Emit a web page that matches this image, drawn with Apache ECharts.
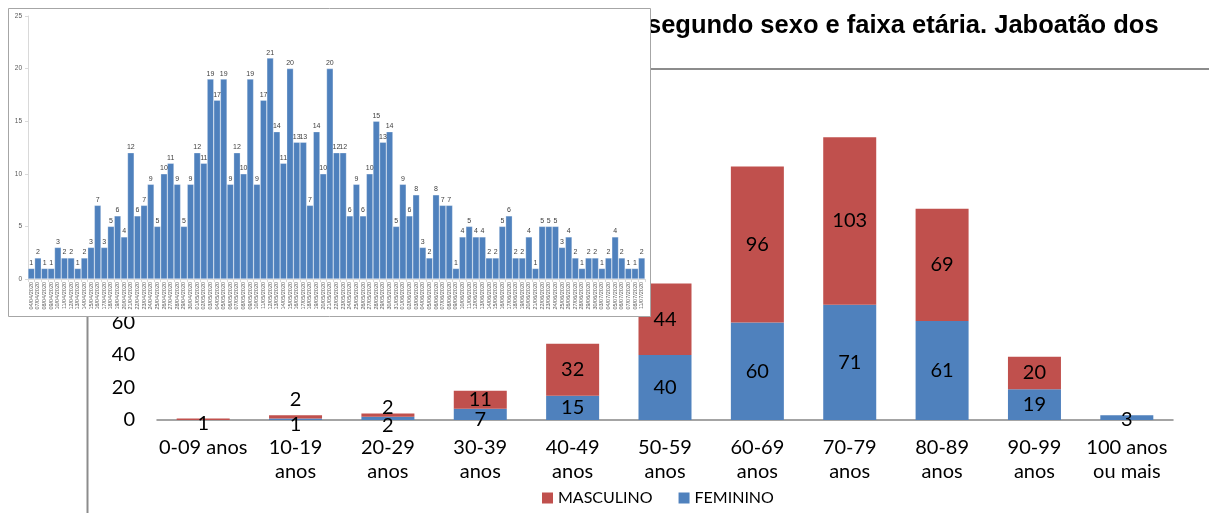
<!DOCTYPE html>
<html>
<head>
<meta charset="utf-8">
<script src="https://cdn.jsdelivr.net/npm/echarts@6/dist/echarts.min.js"></script>
<style>
html,body{margin:0;padding:0;background:#fff;}
#chart{width:1209px;height:513px;}
</style>
</head>
<body>
<div id="chart"></div>
<script>
// ---- Main chart data (óbitos por sexo e faixa etária) ----
const ageGroups = ['0-09 anos', '10-19\nanos', '20-29\nanos', '30-39\nanos', '40-49\nanos', '50-59\nanos', '60-69\nanos', '70-79\nanos', '80-89\nanos', '90-99\nanos', '100 anos\nou mais'];
const masculino = [1, 2, 2, 11, 32, 44, 96, 103, 69, 20, 0];
const feminino  = [0, 1, 2, 7, 15, 40, 60, 71, 61, 19, 3];
const legendNames = ['MASCULINO', 'FEMININO'];
const titleText = 'segundo sexo e faixa etária. Jaboatão dos';

// ---- Inset chart data (óbitos por data) ----
const dates = [
  '04/04/2020',
  '07/04/2020','08/04/2020','09/04/2020','10/04/2020','11/04/2020','12/04/2020','13/04/2020','14/04/2020','15/04/2020','16/04/2020',
  '17/04/2020','18/04/2020','19/04/2020','20/04/2020','21/04/2020','22/04/2020','23/04/2020','24/04/2020','25/04/2020','26/04/2020',
  '27/04/2020','28/04/2020','29/04/2020','30/04/2020',
  '01/05/2020','02/05/2020','03/05/2020','04/05/2020','05/05/2020','06/05/2020','07/05/2020','08/05/2020','09/05/2020','10/05/2020',
  '11/05/2020','12/05/2020','13/05/2020','14/05/2020','15/05/2020','16/05/2020','17/05/2020','18/05/2020','19/05/2020','20/05/2020',
  '21/05/2020','22/05/2020','23/05/2020','24/05/2020','25/05/2020','26/05/2020','27/05/2020','28/05/2020','29/05/2020','30/05/2020','31/05/2020',
  '01/06/2020','02/06/2020','03/06/2020','04/06/2020','05/06/2020','06/06/2020','07/06/2020','08/06/2020','09/06/2020','10/06/2020',
  '11/06/2020','12/06/2020','13/06/2020','14/06/2020','15/06/2020','16/06/2020','17/06/2020','18/06/2020','19/06/2020','20/06/2020',
  '21/06/2020','22/06/2020','23/06/2020','24/06/2020','25/06/2020','26/06/2020','27/06/2020','28/06/2020','29/06/2020','30/06/2020',
  '03/07/2020','04/07/2020','05/07/2020','06/07/2020','07/07/2020','08/07/2020','11/07/2020'
];
const dailyDeaths = [
  1, 2, 1, 1, 3, 2, 2, 1, 2, 3,
  7, 3, 5, 6, 4, 12, 6, 7, 9, 5,
  10, 11, 9, 5, 9, 12, 11, 19, 17, 19,
  9, 12, 10, 19, 9, 17, 21, 14, 11, 20,
  13, 13, 7, 14, 10, 20, 12, 12, 6, 9,
  6, 10, 15, 13, 14, 5, 9, 6, 8, 3,
  2, 8, 7, 7, 1, 4, 5, 4, 4, 2,
  2, 5, 6, 2, 2, 4, 1, 5, 5, 5,
  3, 4, 2, 1, 2, 2, 1, 2, 4, 2,
  1, 1, 2
];

// label nudges (style only) for the tiny stacked segments
const mascLabelNudge = [4, -17, -8, 0, 0, 0, 0, 0, 0, 0, 0];
const femLabelNudge  = [0, 5, 7, 5, 0, 0, 0, 0, 0, 0, 2];

const RED = '#C0504D', BLUE = '#4F81BD';
const mainFont = 'Lato';

const chart = echarts.init(document.getElementById('chart'), null, {renderer: 'canvas'});

const option = {
  animation: false,
  backgroundColor: '#ffffff',
  legend: {
    data: legendNames,
    left: 537, top: 485,
    itemWidth: 11, itemHeight: 11, itemGap: 26,
    icon: 'rect',
    textStyle: {fontFamily: mainFont, fontSize: 16, color: '#000'}
  },
  graphic: [
    {type: 'line', zlevel: 0, z: 1, shape: {x1: 87.5, y1: 316, x2: 87.5, y2: 513}, style: {stroke: '#8c8c8c', lineWidth: 2}},
    {type: 'line', zlevel: 0, z: 1, shape: {x1: 640, y1: 69, x2: 1209, y2: 69}, style: {stroke: '#8c8c8c', lineWidth: 2}},
    {type: 'text', zlevel: 0, z: 1, left: 647, top: 13,
     style: {text: titleText, fill: '#000', font: 'bold 25.5px "Liberation Sans", Arial, sans-serif'}},
    {type: 'rect', zlevel: 1, z: 0, shape: {x: 8.5, y: 8.5, width: 642, height: 308},
     style: {fill: '#ffffff', stroke: '#a6a6a6', lineWidth: 1}}
  ],
  grid: [
    {left: 157, right: 36, top: 127.5, bottom: 93, outerBoundsMode: 'none', containLabel: false},
    {left: 28, top: 16, width: 617, height: 263, outerBoundsMode: 'none', containLabel: false, zlevel: 1, z: 2}
  ],
  xAxis: [
    {
      type: 'category', gridIndex: 0, data: ageGroups,
      axisLine: {lineStyle: {color: '#868686', width: 1.5}},
      axisTick: {show: false},
      axisLabel: {fontFamily: mainFont, fontSize: 20, color: '#000', lineHeight: 24, margin: 16, interval: 0}
    },
    {
      type: 'category', gridIndex: 1, data: dates, zlevel: 1, z: 5,
      axisLine: {lineStyle: {color: '#d9d9d9', width: 1}},
      axisTick: {show: true, length: 3, lineStyle: {color: '#d9d9d9'}},
      axisLabel: {rotate: 90, interval: 0, fontSize: 5.5, color: '#595959', margin: 3, fontFamily: 'Liberation Sans'}
    }
  ],
  yAxis: [
    {
      type: 'value', gridIndex: 0, min: 0, max: 180, interval: 20,
      axisLine: {show: false}, axisTick: {show: false}, splitLine: {show: false},
      axisLabel: {fontFamily: mainFont, fontSize: 20, color: '#000', margin: 22}
    },
    {
      type: 'value', gridIndex: 1, min: 0, max: 25, interval: 5, zlevel: 1, z: 5,
      axisLine: {show: true, lineStyle: {color: '#d9d9d9'}},
      axisTick: {show: true, length: 3, lineStyle: {color: '#d9d9d9'}},
      splitLine: {show: false},
      axisLabel: {fontSize: 6.5, color: '#595959', margin: 6, fontFamily: 'Liberation Sans'}
    }
  ],
  series: [
    {
      name: 'FEMININO', type: 'bar', stack: 'sexo', xAxisIndex: 0, yAxisIndex: 0,
      barWidth: 53,
      itemStyle: {color: BLUE},
      data: feminino.map((v, i) => ({value: v, label: {offset: [0, femLabelNudge[i]]}})),
      label: {show: true, position: 'inside', fontFamily: mainFont, fontSize: 20, color: '#000',
              formatter: p => (p.value ? String(p.value) : '')}
    },
    {
      name: 'MASCULINO', type: 'bar', stack: 'sexo', xAxisIndex: 0, yAxisIndex: 0,
      barWidth: 53,
      itemStyle: {color: RED},
      data: masculino.map((v, i) => ({value: v, label: {offset: [0, mascLabelNudge[i]]}})),
      label: {show: true, position: 'inside', fontFamily: mainFont, fontSize: 20, color: '#000',
              formatter: p => (p.value ? String(p.value) : '')}
    },
    {
      name: 'Óbitos', type: 'bar', xAxisIndex: 1, yAxisIndex: 1, zlevel: 1, z: 6,
      barCategoryGap: '0%',
      itemStyle: {color: BLUE, borderColor: 'rgba(255,255,255,0.55)', borderWidth: 0.5},
      data: dailyDeaths,
      label: {show: true, position: 'top', distance: 2, fontSize: 7, color: '#404040', fontFamily: 'Liberation Sans'}
    }
  ]
};

chart.setOption(option);
</script>
</body>
</html>
